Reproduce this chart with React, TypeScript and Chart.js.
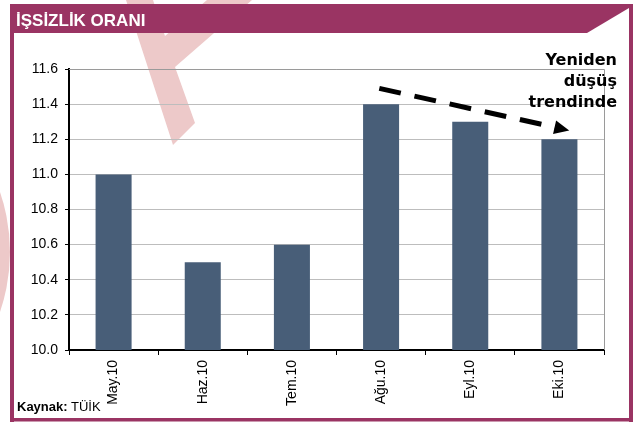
import React, { useEffect, useRef } from 'react';
import { Chart, registerables } from 'chart.js';

Chart.register(...registerables);

// ---- data ----
const categories = ['May.10', 'Haz.10', 'Tem.10', 'Ağu.10', 'Eyl.10', 'Eki.10'];
const unemploymentRate = [11.0, 10.5, 10.6, 11.4, 11.3, 11.2];
const Y_MIN = 10.0;
const Y_MAX = 11.6;
const Y_STEP = 0.2;

const titleText = 'İŞSİZLİK ORANI';
const annotationLines = ['Yeniden', 'düşüş', 'trendinde'];
const sourceLabel = 'Kaynak:';
const sourceName = 'TÜİK';

// dashed trend arrow, in data units (category index, value)
const arrowFrom = { index: 2.98, value: 11.49 };
const arrowTo = { index: 5.11, value: 11.25 };

// ---- styles ----
const W = 641;
const H = 423;
const PURPLE = '#9a3463';
const BAR = '#485e78';
const PINK = '#edc9c9';
const FONT = '"Liberation Sans", Arial, sans-serif';

const backgroundPlugin = {
  id: 'pageBackground',
  beforeDraw(chart: any) {
    const ctx = chart.ctx as CanvasRenderingContext2D;
    ctx.save();
    ctx.fillStyle = '#ffffff';
    ctx.fillRect(0, 0, W, H);
    // watermark
    ctx.fillStyle = PINK;
    ctx.beginPath();
    ctx.moveTo(126, 0);
    ctx.lineTo(153, 0);
    ctx.lineTo(165, 36);
    ctx.lineTo(207, 0);
    ctx.lineTo(252, 0);
    ctx.lineTo(175, 67);
    ctx.lineTo(195, 123);
    ctx.lineTo(173, 145);
    ctx.closePath();
    ctx.fill();
    ctx.beginPath();
    ctx.arc(-175, 252, 185, 0, Math.PI * 2);
    ctx.fill();
    // frame
    ctx.fillStyle = PURPLE;
    ctx.fillRect(10, 4, 623, 29); // header band
    ctx.fillRect(10, 4, 4, 418); // left border
    ctx.fillRect(629, 4, 4, 418); // right border
    ctx.fillRect(10, 418, 623, 3.5); // bottom border
    ctx.fillStyle = '#ffffff';
    ctx.beginPath();
    ctx.moveTo(587, 33);
    ctx.lineTo(629, 8);
    ctx.lineTo(629, 33);
    ctx.closePath();
    ctx.fill();
    ctx.restore();
  },
};

const plotBorderPlugin = {
  id: 'plotBorder',
  beforeDatasetsDraw(chart: any) {
    const { ctx, chartArea } = chart;
    ctx.save();
    ctx.strokeStyle = '#9a9a9a';
    ctx.lineWidth = 1;
    ctx.beginPath();
    ctx.moveTo(chartArea.left, Math.round(chartArea.top) + 0.5);
    ctx.lineTo(Math.round(chartArea.right) + 0.5, Math.round(chartArea.top) + 0.5);
    ctx.lineTo(Math.round(chartArea.right) + 0.5, chartArea.bottom);
    ctx.stroke();
    ctx.restore();
  },
};

const arrowPlugin = {
  id: 'trendArrow',
  afterDatasetsDraw(chart: any) {
    const { ctx } = chart;
    const xs = chart.scales.x;
    const ys = chart.scales.y;
    const x0 = xs.getPixelForValue(arrowFrom.index);
    const y0 = ys.getPixelForValue(arrowFrom.value);
    const x1 = xs.getPixelForValue(arrowTo.index);
    const y1 = ys.getPixelForValue(arrowTo.value);
    const dx = x1 - x0;
    const dy = y1 - y0;
    const len = Math.hypot(dx, dy);
    const ux = dx / len;
    const uy = dy / len;
    const px = -uy;
    const py = ux;
    ctx.save();
    ctx.strokeStyle = '#000';
    ctx.lineWidth = 5;
    ctx.setLineDash([22, 14]);
    ctx.beginPath();
    ctx.moveTo(x0, y0);
    ctx.lineTo(x1 - ux * 13, y1 - uy * 13);
    ctx.stroke();
    ctx.setLineDash([]);
    ctx.fillStyle = '#000';
    const bx = x1 - ux * 15;
    const by = y1 - uy * 15;
    ctx.beginPath();
    ctx.moveTo(x1, y1);
    ctx.lineTo(bx + px * 7, by + py * 7);
    ctx.lineTo(bx - px * 7, by - py * 7);
    ctx.closePath();
    ctx.fill();
    ctx.restore();
  },
};

export default function App() {
  const canvasRef = useRef<HTMLCanvasElement | null>(null);

  useEffect(() => {
    if (!canvasRef.current) return;
    const chart = new Chart(canvasRef.current, {
      type: 'bar',
      data: {
        labels: categories,
        datasets: [
          {
            label: 'İşsizlik oranı',
            data: unemploymentRate,
            backgroundColor: BAR,
            borderWidth: 0,
            categoryPercentage: 1,
            barPercentage: 0.404,
          },
        ],
      },
      options: {
        responsive: false,
        animation: false,
        devicePixelRatio: 1,
        layout: { padding: { left: 0, right: 37, top: 69, bottom: 0 } },
        plugins: {
          legend: { display: false },
          tooltip: { enabled: false },
          title: { display: false },
        },
        scales: {
          x: {
            offset: true,
            grid: {
              display: true,
              offset: true,
              drawOnChartArea: false,
              drawTicks: true,
              tickLength: 5,
              color: '#000',
              tickColor: '#000',
              lineWidth: 1,
            },
            border: { display: true, color: '#000', width: 2 },
            ticks: {
              autoSkip: false,
              maxRotation: 90,
              minRotation: 90,
              padding: 5,
              color: '#000',
              font: { family: FONT, size: 14 },
            },
            afterFit: (s: any) => {
              s.height = 73;
            },
          },
          y: {
            min: Y_MIN,
            max: Y_MAX,
            grid: {
              color: '#bdbdbd',
              tickColor: '#000',
              lineWidth: 1,
              drawTicks: true,
              tickLength: 4,
            },
            border: { display: true, color: '#000', width: 2 },
            ticks: {
              stepSize: Y_STEP,
              padding: 7,
              color: '#000',
              font: { family: FONT, size: 14 },
              callback: (v: any) => Number(v).toFixed(1),
            },
            afterFit: (s: any) => {
              s.width = 69;
            },
          },
        },
      },
      plugins: [backgroundPlugin, plotBorderPlugin, arrowPlugin],
    });
    return () => chart.destroy();
  }, []);

  return (
    <div style={{ position: 'absolute', left: 0, top: 0, width: W, height: H, overflow: 'hidden' }}>
      <canvas ref={canvasRef} width={W} height={H} style={{ position: 'absolute', left: 0, top: 0, width: W, height: H }} />
      <div
        style={{
          position: 'absolute',
          left: 16,
          top: 11,
          color: '#fff',
          fontFamily: FONT,
          fontWeight: 'bold',
          fontSize: 17,
          lineHeight: 'normal',
          whiteSpace: 'nowrap',
        }}
      >
        {titleText}
      </div>
      <div
        style={{
          position: 'absolute',
          right: 24,
          top: 49,
          textAlign: 'right',
          color: '#000',
          fontFamily: '"DejaVu Sans", Verdana, sans-serif',
          fontWeight: 'bold',
          fontSize: 16,
          lineHeight: '21px',
          whiteSpace: 'nowrap',
        }}
      >
        {annotationLines.map((l) => (
          <div key={l}>{l}</div>
        ))}
      </div>
      <div
        style={{
          position: 'absolute',
          left: 17,
          top: 399,
          color: '#000',
          fontFamily: FONT,
          fontSize: 13,
          lineHeight: 'normal',
          whiteSpace: 'nowrap',
        }}
      >
        <b>{sourceLabel}</b> {sourceName}
      </div>
    </div>
  );
}
